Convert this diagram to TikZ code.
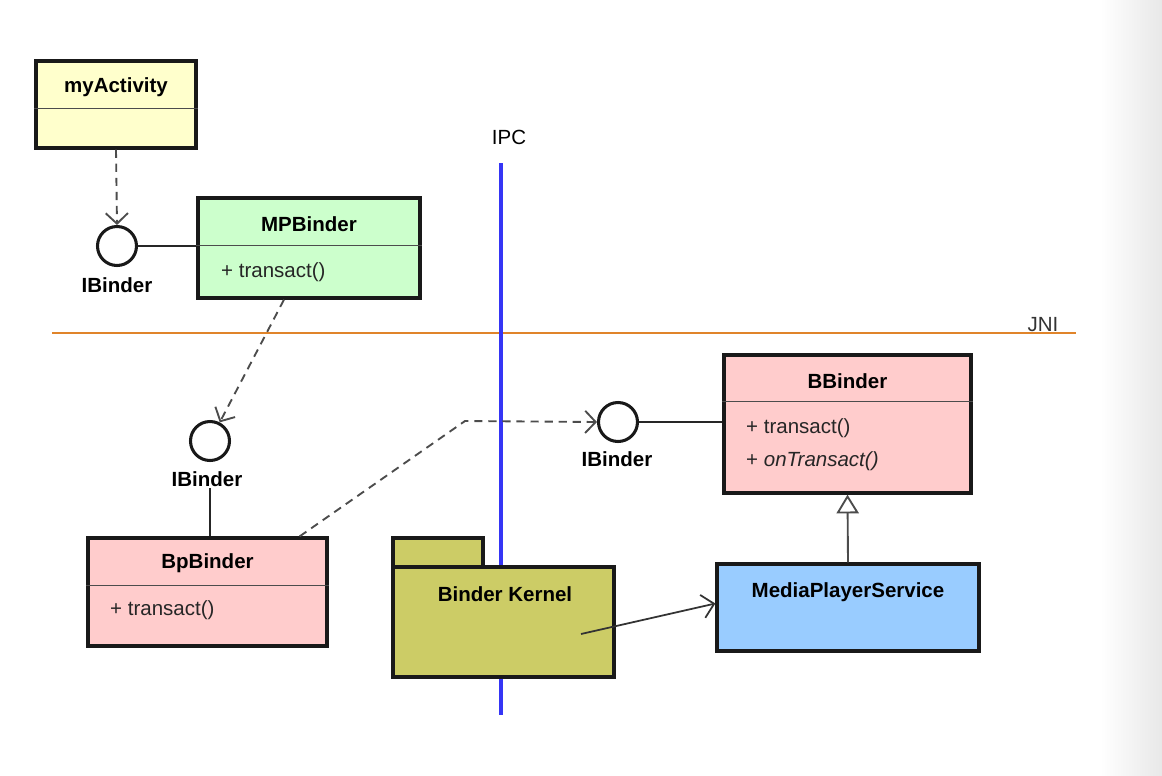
\documentclass[tikz,border=0pt]{standalone}
\usepackage{fontspec}
\setmainfont{Liberation Sans}
\usetikzlibrary{arrows.meta}

\definecolor{actyellow}{HTML}{FFFFCC}
\definecolor{mpgreen}{HTML}{CCFFCC}
\definecolor{binderpink}{HTML}{FFCCCC}
\definecolor{serviceblue}{HTML}{99CCFF}
\definecolor{kernelolive}{HTML}{CCCC66}
\definecolor{ipcblue}{HTML}{3535F5}
\definecolor{jniorange}{HTML}{E0842A}

\tikzset{
    classbox/.style={draw=black!90, line width=2.8pt, inner sep=0pt},
    classname/.style={font=\fontsize{17.5}{20}\selectfont\bfseries, inner sep=0pt},
    member/.style={anchor=west, font=\fontsize{17.5}{20}\selectfont, text=black!85, inner sep=0pt},
    divider/.style={draw=black!70, line width=1.4pt},
    iface/.style={circle, draw=black!90, line width=2.6pt, minimum size=1.17cm, inner sep=0pt, fill=white},
    ifacename/.style={font=\fontsize{17.5}{20}\selectfont\bfseries, inner sep=1pt},
    dep/.style={draw=black!70, line width=1.6pt, dash pattern=on 7pt off 5pt,
                -{Straight Barb[length=9pt,width=19pt]}},
    link/.style={draw=black!85, line width=1.5pt},
    inherit/.style={draw=black!70, line width=1.6pt, -{Triangle[open,length=16pt,width=19pt]}},
    assoc/.style={draw=black!80, line width=1.5pt, -{Straight Barb[length=10pt,width=20pt]}},
}

\begin{document}
\begin{tikzpicture}[x=0.03cm, y=-0.03cm]
    \useasboundingbox (0,0) rectangle (1162,776);
    \shade[left color=white, right color=black!9, draw=none] (1100,0) rectangle (1162,776);

    % Boundaries
    \coordinate (ipc-top) at (501,163);
    \coordinate (ipc-bot) at (501,715);
    \coordinate (jni-left) at (52,333);
    \coordinate (jni-right) at (1076,333);
    \draw[jniorange, line width=2.5pt] (jni-left) -- (jni-right);
    \draw[ipcblue, line width=3pt] (ipc-top) -- (ipc-bot);
    \node[font=\fontsize{17.5}{20}\selectfont] (ipc) at (509,137) {IPC};
    \node[font=\fontsize{17.5}{20}\selectfont, anchor=base, inner sep=0pt, text=black!80] (jni) at (1043,331) {JNI};

    % Classes
    \node[classbox, fill=actyellow, minimum width=4.8cm, minimum height=2.61cm] (act) at (116,104.5) {};
    \draw[divider] ([yshift=-1.47cm]act.north west) -- ([yshift=-1.47cm]act.north east);
    \node[classname] (act-name) at (116,87) {myActivity};

    \node[classbox, fill=mpgreen, minimum width=6.66cm, minimum height=3cm] (mpb) at (309,248) {};
    \draw[divider] ([yshift=-1.47cm]mpb.north west) -- ([yshift=-1.47cm]mpb.north east);
    \node[classname] (mpb-name) at (309,224) {MPBinder};
    \node[member] (mpb-m1) at (221,272) {+ transact()};

    \node[classbox, fill=binderpink, minimum width=7.17cm, minimum height=3.24cm] (bpb) at (207.5,592) {};
    \draw[divider] ([yshift=-1.47cm]bpb.north west) -- ([yshift=-1.47cm]bpb.north east);
    \node[classname] (bpb-name) at (207.5,563) {BpBinder};
    \node[member] (bpb-m1) at (110,610) {+ transact()};

    \node[classbox, fill=binderpink, minimum width=7.41cm, minimum height=4.14cm] (bb) at (847.5,424) {};
    \draw[divider] ([yshift=-1.44cm]bb.north west) -- ([yshift=-1.44cm]bb.north east);
    \node[classname] (bb-name) at (847.5,381) {BBinder};
    \node[member] (bb-m1) at (746,428) {+ transact()};
    \node[member] (bb-m2) at (746,461) {+ \textit{onTransact()}};

    \node[classbox, fill=serviceblue, minimum width=7.86cm, minimum height=2.61cm] (mps) at (848,607.5) {};
    \node[classname] (mps-name) at (848,592) {MediaPlayerService};

    % Package
    \node[classbox, fill=kernelolive, minimum width=2.7cm, minimum height=0.87cm] (kernel-tab) at (438,552.5) {};
    \node[classbox, fill=kernelolive, minimum width=6.63cm, minimum height=3.3cm] (kernel) at (503.5,622) {};
    \node[classname] (kernel-name) at (505,594) {Binder Kernel};

    % Interfaces
    \node[iface] (ib1) at (117,246) {};
    \node[ifacename] (ib1-name) at (117,285) {IBinder};
    \node[iface] (ib2) at (210,441) {};
    \node[ifacename] (ib2-name) at (207,479) {IBinder};
    \node[iface] (ib3) at (618,422) {};
    \node[ifacename] (ib3-name) at (617,459) {IBinder};

    % Connectors
    \draw[dep] (act.south) -- (ib1.north);
    \draw[link] (ib1.east) -- (mpb.west |- ib1.east);
    \draw[dep] ([xshift=-0.75cm]mpb.south) -- (ib2);
    \draw[link] (ib2-name.south -| 210,0) -- (bpb.north -| 210,0);
    \coordinate (bend) at (465,421);
    \draw[dep] ([xshift=-0.87cm]bpb.north east) -- (bend) -- (ib3.west);
    \draw[link] (ib3.east) -- (bb.west |- ib3.east);
    \draw[inherit] (mps.north) -- (bb.south);
    \coordinate (kernel-out) at (581,634);
    \draw[assoc] (kernel-out) -- ([yshift=0.12cm]mps.west);
\end{tikzpicture}
\end{document}
